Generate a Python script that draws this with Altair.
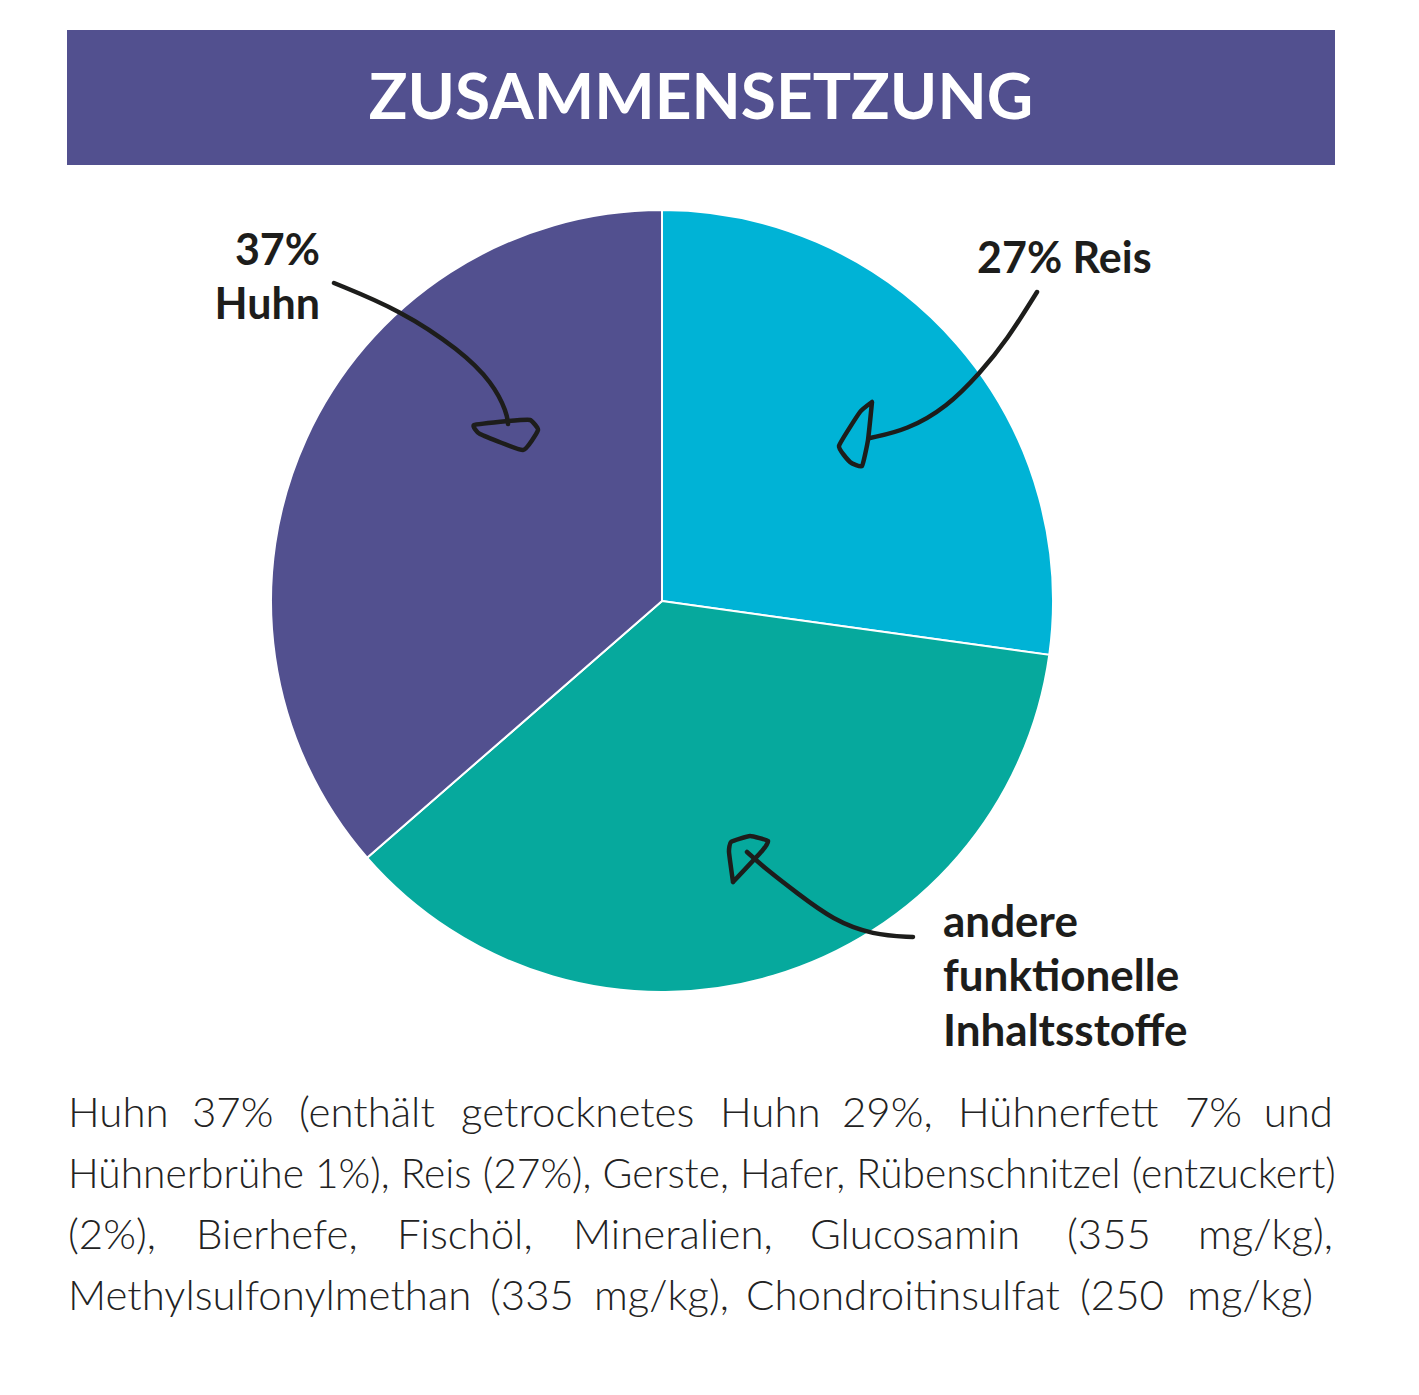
import altair as alt
import pandas as pd

# ---- data ----
categories = ["Reis", "andere funktionelle Inhaltsstoffe", "Huhn"]
values = [27.2, 36.4, 36.4]
slice_colors = ["#00B3D6", "#06A99D", "#52508F"]

title_text = "ZUSAMMENSETZUNG"
label_huhn = ["37%", "Huhn"]
label_reis = "27% Reis"
label_other = ["andere", "funktionelle", "Inhaltsstoffe"]

para_line1 = ["Huhn", "37%", "(enthält", "getrocknetes", "Huhn", "29%,", "Hühnerfett", "7%", "und"]
para_line2 = "Hühnerbrühe 1%), Reis (27%), Gerste, Hafer, Rübenschnitzel (entzuckert)"
para_line3 = ["(2%),", "Bierhefe,", "Fischöl,", "Mineralien,", "Glucosamin", "(355", "mg/kg),"]
para_line4 = ["Methylsulfonylmethan", "(335", "mg/kg),", "Chondroitinsulfat", "(250", "mg/kg)"]

# hand-drawn annotation arrows (page pixel space)
arrow_huhn_x = [334, 400, 460, 493, 507, 508]
arrow_huhn_y = [283, 310, 350, 383, 413, 424]
head_huhn_x = [508, 474, 480, 523, 538, 530, 508]
head_huhn_y = [421, 425, 434, 450, 430, 420, 421]
arrow_reis_x = [1037, 1007, 980, 947, 907, 870]
arrow_reis_y = [292, 340, 373, 407, 430, 438]
head_reis_x = [872, 860, 839, 850, 862, 868, 872]
head_reis_y = [402, 412, 446, 462, 466, 440, 402]
arrow_other_x = [913, 873, 833, 797, 767, 747]
arrow_other_y = [937, 935, 920, 893, 870, 852]
head_other_x = [733, 729, 731, 750, 768, 762, 733]
head_other_y = [882, 852, 842, 836, 841, 851, 882]

# ---- layout ----
W, H = 1403, 1379
OFF = 8  # page margin
PURPLE = "#52508F"
INK = "#1d1d1b"
BOLD_FONT = "Lato"
LIGHT_FONT = "Lato"

def px(v):
    return v - OFF

pie_df = pd.DataFrame({"cat": categories, "val": values, "ord": [0, 1, 2]})

header = alt.Chart(pd.DataFrame({"a": [0]})).mark_rect(color=PURPLE).encode(
    x=alt.value(px(67)), x2=alt.value(px(1335)), y=alt.value(px(30)), y2=alt.value(px(165))
)

title = alt.Chart(pd.DataFrame({"t": [title_text]})).mark_text(
    font=BOLD_FONT, fontWeight="bold", fontSize=64, color="white",
    align="center", baseline="alphabetic"
).encode(text="t:N", x=alt.value(px(701)), y=alt.value(px(119)))

pie = alt.Chart(pie_df).mark_arc(stroke="white", strokeWidth=2, radius=391).encode(
    theta=alt.Theta("val:Q", stack=True),
    order=alt.Order("ord:Q"),
    color=alt.Color("cat:N", scale=alt.Scale(domain=categories, range=slice_colors), legend=None),
    x=alt.value(px(662)), y=alt.value(px(601)),
)

def text_layer(txt, x, y, align="left", size=43, weight="bold", font=BOLD_FONT, color=INK):
    return alt.Chart(pd.DataFrame({"t": [txt]})).mark_text(
        font=font, fontWeight=weight, fontSize=size, color=color,
        align=align, baseline="alphabetic"
    ).encode(text="t:N", x=alt.value(px(x)), y=alt.value(px(y)))

labels = [
    text_layer(label_huhn[0], 320, 265, align="right"),
    text_layer(label_huhn[1], 320, 319, align="right"),
    text_layer(label_reis, 977, 273, align="left"),
    text_layer(label_other[0], 943, 937, size=44),
    text_layer(label_other[1], 943, 991, size=44),
    text_layer(label_other[2], 943, 1046, size=44),
]

xs = alt.Scale(domain=[OFF, W + OFF], range=[0, W], nice=False, zero=False)
ys = alt.Scale(domain=[OFF, H + OFF], range=[0, H], nice=False, zero=False)

def path_layer(xv, yv, interp, tension=None):
    df = pd.DataFrame({"px": xv, "py": yv, "i": list(range(len(xv)))})
    kw = dict(color=INK, strokeWidth=4.5, interpolate=interp, strokeCap="round", strokeJoin="round")
    if tension is not None:
        kw["tension"] = tension
    return alt.Chart(df).mark_line(**kw).encode(
        x=alt.X("px:Q", scale=xs, axis=None),
        y=alt.Y("py:Q", scale=ys, axis=None),
        order=alt.Order("i:Q"),
    )

arrows = [
    path_layer(arrow_huhn_x, arrow_huhn_y, "basis"),
    path_layer(head_huhn_x, head_huhn_y, "cardinal", 0.6),
    path_layer(arrow_reis_x, arrow_reis_y, "basis"),
    path_layer(head_reis_x, head_reis_y, "cardinal", 0.6),
    path_layer(arrow_other_x, arrow_other_y, "basis"),
    path_layer(head_other_x, head_other_y, "cardinal", 0.6),
]

# paragraph (justified lines placed word by word, as in the original)
P_SIZE = 42
P_COLOR = "#222222"
lines = [
    (para_line1, [68, 192, 299, 461, 720, 842, 958, 1185, 1333], 1127),
    (para_line3, [68, 196, 397, 573, 810, 1067, 1333], 1249),
    (para_line4, [68, 490, 594, 746, 1080, 1313], 1310),
]
para = []
for words, xpos, yb in lines:
    for i, (w, x) in enumerate(zip(words, xpos)):
        para.append(text_layer(w, x, yb, align="right" if i == len(words) - 1 else "left",
                               size=P_SIZE, weight=300, font=LIGHT_FONT, color=P_COLOR))
para.append(text_layer(para_line2, 68, 1188, size=40.7, weight=300, font=LIGHT_FONT, color=P_COLOR))

chart = alt.layer(header, title, pie, *arrows, *labels, *para).properties(
    width=W, height=H, padding=0
).configure_view(stroke=None).resolve_scale(color="independent")

chart.save("out.html", embed_options={"renderer": "svg", "actions": False})
